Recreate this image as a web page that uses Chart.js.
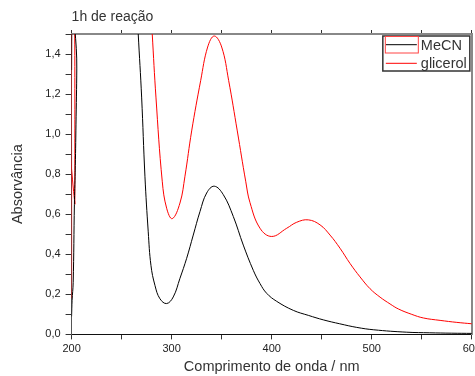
<!DOCTYPE html>
<html>
<head>
<meta charset="utf-8">
<script src="https://cdn.jsdelivr.net/npm/chart.js@4/dist/chart.umd.min.js"></script>
<style>
  html, body { margin: 0; padding: 0; background: #fff; overflow: hidden; }
  .wrap { width: 475px; height: 376px; overflow: hidden; }
</style>
</head>
<body>
<div class="wrap"><canvas class="uv-graph" width="484" height="376"></canvas></div>
<script>
// comprimento de onda (nm) / absorvância - MeCN
const mecnWl = [200, 200.3, 200.3, 200, 200.5, 201.6, 202.8, 203.6, 204.4, 205.2, 205.8, 262, 266.6, 270, 273.3, 276.6, 279.3, 283.3, 288.3, 295, 301.6, 308.3, 315, 321.6, 328.3, 335, 342.6, 351.6, 361.6, 371.6, 381.6, 388.3, 395, 405, 421.6, 436.6, 452, 468, 485, 502, 535, 558, 580, 600];
const mecnAbs = [1.32, 2.0, null, 0.09, 0.17, 0.26, 0.65, 0.81, 1.05, 1.33, 2.0, 1.95, 1.5, 1.185, 0.79, 0.512, 0.345, 0.245, 0.178, 0.154, 0.187, 0.28, 0.38, 0.496, 0.613, 0.706, 0.74, 0.698, 0.589, 0.446, 0.32, 0.254, 0.205, 0.165, 0.12, 0.095, 0.072, 0.053, 0.035, 0.023, 0.011, 0.008, 0.006, 0.005];

// glicerol
const glicWl = [200, 200.5, 202.6, 203.3, 203.9, 276, 280.6, 284.3, 290.6, 295, 300.6, 308.3, 313.3, 320, 329, 336, 342.6, 350, 357, 365.6, 374, 378.3, 388.3, 400, 415, 425, 436.6, 448.3, 458.3, 468.3, 478.3, 488.3, 498.3, 508.3, 518.3, 526.6, 540, 551.6, 568.3, 585, 600];
const glicAbs = [0.18, 2.0, 2.0, 0.65, 2.0, 1.9, 1.5, 1.185, 0.765, 0.63, 0.578, 0.656, 0.79, 1.016, 1.267, 1.435, 1.49, 1.435, 1.267, 1.016, 0.765, 0.658, 0.53, 0.489, 0.53, 0.56, 0.572, 0.547, 0.496, 0.43, 0.354, 0.287, 0.228, 0.186, 0.152, 0.127, 0.1, 0.082, 0.07, 0.06, 0.053];

const seriesNames = ["MeCN", "glicerol"];
const chartTitle = "1h de reação";
const xTitle = "Comprimento de onda / nm";
const yTitle = "Absorvância";

const toPoints = (xs, ys) => xs.map((x, i) => ({ x: x, y: ys[i] }));

// легенда в рамці всередині графіка
const legendBox = {
  id: "legendBox",
  afterDraw(chart) {
    const { ctx, chartArea } = chart;
    const w = 87, h = 35;
    const x0 = chartArea.right - w - 2;
    const y0 = chartArea.top + 2;
    ctx.save();
    ctx.fillStyle = "#fff";
    ctx.fillRect(x0, y0, w, h);
    ctx.strokeStyle = "#333";
    ctx.lineWidth = 1.5;
    ctx.strokeRect(x0, y0, w, h);
    chart.data.datasets.forEach((ds, i) => {
      const yy = y0 + 8.7 + i * 18.6;
      ctx.strokeStyle = ds.borderColor;
      ctx.lineWidth = 1;
      ctx.beginPath();
      ctx.moveTo(x0 + 3, yy);
      ctx.lineTo(x0 + 34, yy);
      ctx.stroke();
      ctx.fillStyle = "#333";
      ctx.font = '14.5px "Liberation Sans", Arial, sans-serif';
      ctx.textBaseline = "middle";
      ctx.fillText(ds.label, x0 + 38, yy + 1);
    });
    ctx.strokeStyle = "#f44";
    ctx.lineWidth = 1;
    ctx.strokeRect(x0 + 2.5, y0 + 0.5, 33, 16.5);
    ctx.restore();
  },
};

const canvas = document.querySelector(".uv-graph");
const context = canvas.getContext("2d");

const tickFont = { family: '"Liberation Sans", Arial, sans-serif', size: 11 };
const titleFont = { family: '"Liberation Sans", Arial, sans-serif', size: 14.5 };

const config = {
  type: "line",
  data: {
    datasets: [
      {
        label: seriesNames[0],
        data: toPoints(mecnWl, mecnAbs),
        borderColor: "#000",
        borderWidth: 1,
        pointRadius: 0,
        tension: 0.4,
      },
      {
        label: seriesNames[1],
        data: toPoints(glicWl, glicAbs),
        borderColor: "#f00",
        borderWidth: 1,
        pointRadius: 0,
        tension: 0.4,
      },
    ],
  },
  options: {
    responsive: false,
    animation: false,
    events: [],
    layout: { padding: 0 },
    plugins: { legend: { display: false }, tooltip: { enabled: false }, title: { display: false } },
    scales: {
      x: {
        type: "linear",
        position: "bottom",
        min: 200,
        max: 600,
        grid: { drawOnChartArea: false, tickLength: 5, tickColor: "#333" },
        border: { color: "#111", width: 1 },
        ticks: {
          stepSize: 50,
          autoSkip: false,
          maxRotation: 0,
          padding: 3,
          color: "#222",
          font: tickFont,
          callback: (v) => (v % 100 === 0 ? String(v) : ""),
        },
        title: { display: true, text: xTitle, color: "#333", font: titleFont, padding: { top: 0, bottom: 0 } },
      },
      x2: {
        type: "linear",
        position: "top",
        min: 200,
        max: 600,
        grid: { drawOnChartArea: false, tickLength: 4, tickColor: "#333" },
        border: { color: "#888", width: 2 },
        ticks: { stepSize: 50, display: false },
        title: { display: true, text: chartTitle, align: "start", color: "#333", font: { family: titleFont.family, size: 14 }, padding: { top: 8.6, bottom: 4.6 } },
      },
      y: {
        type: "linear",
        position: "left",
        min: 0,
        max: 1.5,
        grid: { drawOnChartArea: false, tickLength: 6, tickColor: "#333" },
        border: { color: "#555", width: 1 },
        ticks: {
          stepSize: 0.1,
          autoSkip: false,
          padding: 5,
          color: "#222",
          font: tickFont,
          callback: (v) => (Math.round(v * 10) % 2 === 0 ? v.toFixed(1).replace(".", ",") : ""),
        },
        title: { display: true, text: yTitle, color: "#333", font: titleFont, padding: { top: 8.8, bottom: 14.1 } },
      },
      y2: {
        type: "linear",
        position: "right",
        min: 0,
        max: 1.5,
        grid: { drawOnChartArea: false, drawTicks: false },
        border: { color: "#888", width: 2 },
        ticks: { display: false },
      },
    },
  },
  plugins: [legendBox],
};

const uvChart = new Chart(context, config);
</script>
</body>
</html>
